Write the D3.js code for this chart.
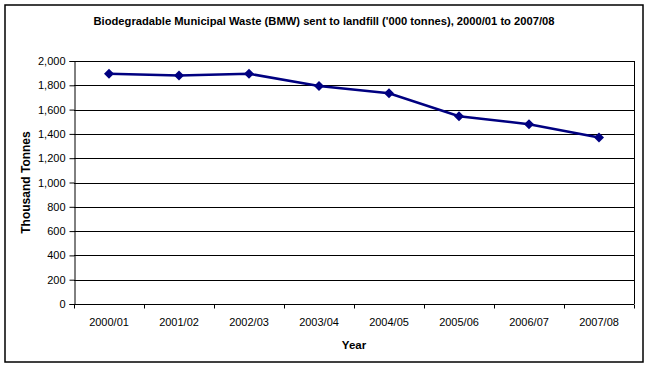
<!DOCTYPE html>
<html>
<head>
<meta charset="utf-8">
<script src="https://cdn.jsdelivr.net/npm/d3@7"></script>
<style>
  body { margin: 0; background: #fff; }
  text { font-family: "Liberation Sans", Arial, sans-serif; fill: #000; }
</style>
</head>
<body>
<div id="chart"></div>
<script>
const years = ["2000/01", "2001/02", "2002/03", "2003/04", "2004/05", "2005/06", "2006/07", "2007/08"];
const bmw = [1895, 1880, 1895, 1795, 1735, 1545, 1480, 1370];
const yTicks = [0, 200, 400, 600, 800, 1000, 1200, 1400, 1600, 1800, 2000];

const W = 649, H = 367;
const margin = { top: 61, right: 15, bottom: 63, left: 74 };
const width = W - margin.left - margin.right;
const height = H - margin.top - margin.bottom;

const svg = d3.select("#chart").append("svg")
    .attr("width", W)
    .attr("height", H);

// outer frame
svg.append("rect")
    .attr("x", 5).attr("y", 5)
    .attr("width", 638).attr("height", 357)
    .attr("fill", "none")
    .attr("stroke", "#000")
    .attr("stroke-width", 1.5);

svg.append("text")
    .attr("x", 324).attr("y", 25)
    .attr("text-anchor", "middle")
    .style("font-size", "11.2px")
    .style("font-weight", "bold")
    .text("Biodegradable Municipal Waste (BMW) sent to landfill ('000 tonnes), 2000/01 to 2007/08");

const g = svg.append("g")
    .attr("transform", `translate(${margin.left},${margin.top})`);

const x = d3.scaleBand().domain(years).range([0, width]);
const y = d3.scaleLinear().domain([0, 2000]).range([height, 0]);

// gridlines
g.append("g")
    .selectAll("line")
    .data(yTicks.filter(d => d > 0))
    .join("line")
    .attr("x1", 0).attr("x2", width)
    .attr("y1", d => Math.round(y(d)) + 0.5)
    .attr("y2", d => Math.round(y(d)) + 0.5)
    .attr("stroke", "#000");

// right border of plot area
g.append("line")
    .attr("x1", width + 0.5).attr("x2", width + 0.5)
    .attr("y1", 0).attr("y2", height)
    .attr("stroke", "#000");

const yAxis = g.append("g")
    .attr("transform", "translate(0.5,0)")
    .call(d3.axisLeft(y).tickValues(yTicks).tickSize(5).tickPadding(4).tickFormat(d3.format(",")));

const xAxis = g.append("g")
    .attr("transform", `translate(0,${Math.round(height) + 0.5})`)
    .call(d3.axisBottom(x).tickSize(0).tickPadding(14));

// category boundary ticks
xAxis.append("g")
    .selectAll("line")
    .data(d3.range(years.length + 1))
    .join("line")
    .attr("x1", i => Math.round(i * x.step()) + 0.5)
    .attr("x2", i => Math.round(i * x.step()) + 0.5)
    .attr("y1", 0).attr("y2", 4)
    .attr("stroke", "#000");

[yAxis, xAxis].forEach(a => {
    a.select(".domain").attr("stroke", "#000");
    a.selectAll(".tick line").attr("stroke", "#000");
    a.selectAll("text")
        .style("font-family", "'Liberation Sans', Arial, sans-serif")
        .style("font-size", "11px")
        .attr("fill", "#000");
});
xAxis.select(".domain").attr("d", `M0,0H${width}`);

g.append("text")
    .attr("x", width / 2)
    .attr("y", height + 45)
    .attr("text-anchor", "middle")
    .style("font-size", "11.5px")
    .style("font-weight", "bold")
    .text("Year");

g.append("text")
    .attr("transform", "rotate(-90)")
    .attr("x", -height / 2)
    .attr("y", -44)
    .attr("text-anchor", "middle")
    .style("font-size", "12px")
    .style("font-weight", "bold")
    .text("Thousand Tonnes");

const data = years.map((yr, i) => ({ yr, v: bmw[i] }));
const cx = d => x(d.yr) + x.bandwidth() / 2;

g.append("path")
    .datum(data)
    .attr("fill", "none")
    .attr("stroke", "#000080")
    .attr("stroke-width", 2.5)
    .attr("d", d3.line().x(cx).y(d => y(d.v)));

g.selectAll(".pt")
    .data(data)
    .join("path")
    .attr("class", "pt")
    .attr("transform", d => `translate(${cx(d)},${y(d.v)})`)
    .attr("d", "M0,-5L5,0L0,5L-5,0Z")
    .attr("fill", "#000080");
</script>
</body>
</html>
